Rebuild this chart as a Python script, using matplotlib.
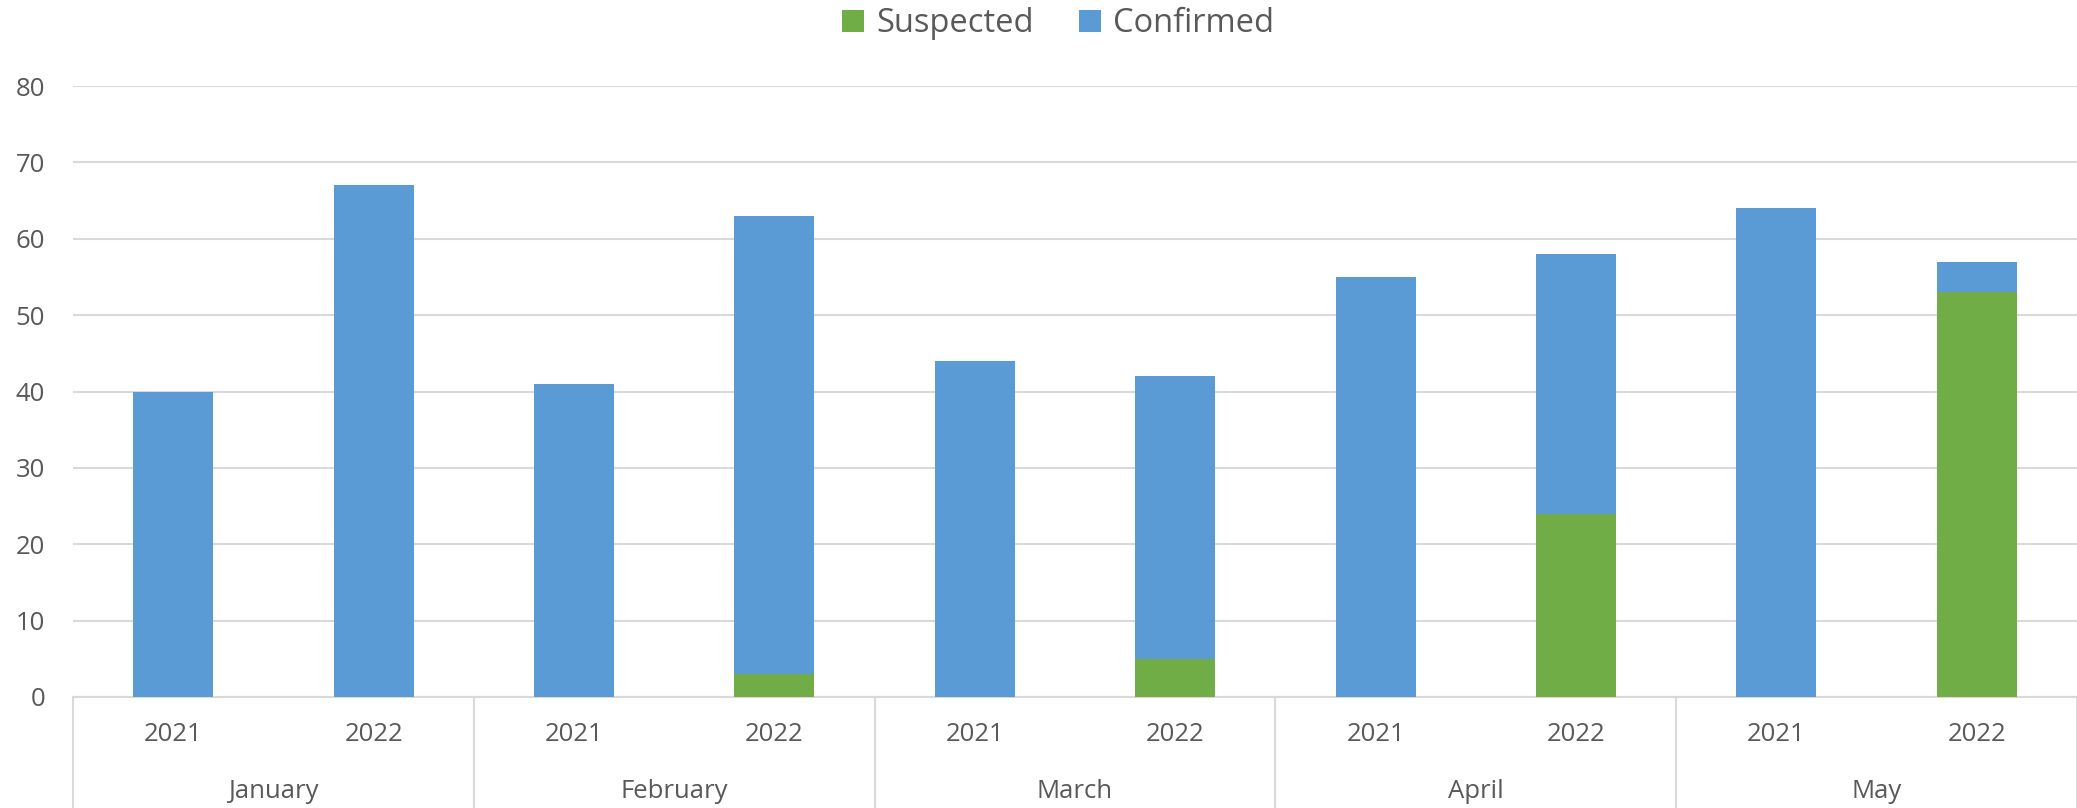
import numpy as np
import matplotlib.pyplot as plt
import matplotlib.transforms as mtransforms

months = ['January', 'February', 'March', 'April', 'May']
years = ['2021', '2022']
suspected = [0, 0, 0, 3, 0, 5, 0, 24, 0, 53]
confirmed = [40, 67, 41, 60, 44, 37, 55, 34, 64, 4]

BLUE = '#5B9BD5'
GREEN = '#70AD47'
GRID = '#d9d9d9'
TXT = '#595959'

plt.rcParams['font.family'] = ['Open Sans', 'DejaVu Sans']

fig = plt.figure(figsize=(20.77, 8.08), dpi=100)
ax = fig.add_axes([73 / 2077, 111 / 808, 1 - 73 / 2077, 611 / 808])

x = np.arange(len(suspected))
ax.bar(x, suspected, width=0.4, color=GREEN, label='Suspected', zorder=3)
ax.bar(x, confirmed, width=0.4, bottom=suspected, color=BLUE, label='Confirmed', zorder=3)

ax.set_xlim(-0.5, len(x) - 0.5)
ax.set_ylim(0, 80)
ax.set_yticks(range(0, 81, 10))
ax.tick_params(axis='y', length=0, pad=20, labelsize=18.5, labelcolor=TXT)
ax.grid(axis='y', color=GRID, linewidth=1.5, zorder=0)
ax.set_xticks([])
for s in ['top', 'right', 'left']:
    ax.spines[s].set_visible(False)
ax.spines['bottom'].set_color(GRID)
ax.spines['bottom'].set_linewidth(1.5)

# two level category axis
trans = mtransforms.blended_transform_factory(ax.transData, ax.transAxes)
for i in range(len(x)):
    ax.text(i, -0.062, years[i % 2], transform=trans, ha='center', va='center',
            fontsize=18.5, color=TXT)
for j, m in enumerate(months):
    ax.text(2 * j + 0.5, -0.155, m, transform=trans, ha='center', va='center',
            fontsize=18.5, color=TXT)
for b in np.arange(-0.5, len(x), 2):
    ax.plot([b, b], [0, -0.2], transform=trans, color=GRID, linewidth=1.5, clip_on=False)

fig.legend(loc='center', bbox_to_anchor=(1058 / 2077, 1 - 24 / 808), ncol=2, frameon=False,
           fontsize=23.5, labelcolor=TXT, handlelength=0.68, handleheight=0.68,
           handletextpad=0.35, columnspacing=1.4)

fig.savefig('out.png', dpi=100, facecolor='white')
